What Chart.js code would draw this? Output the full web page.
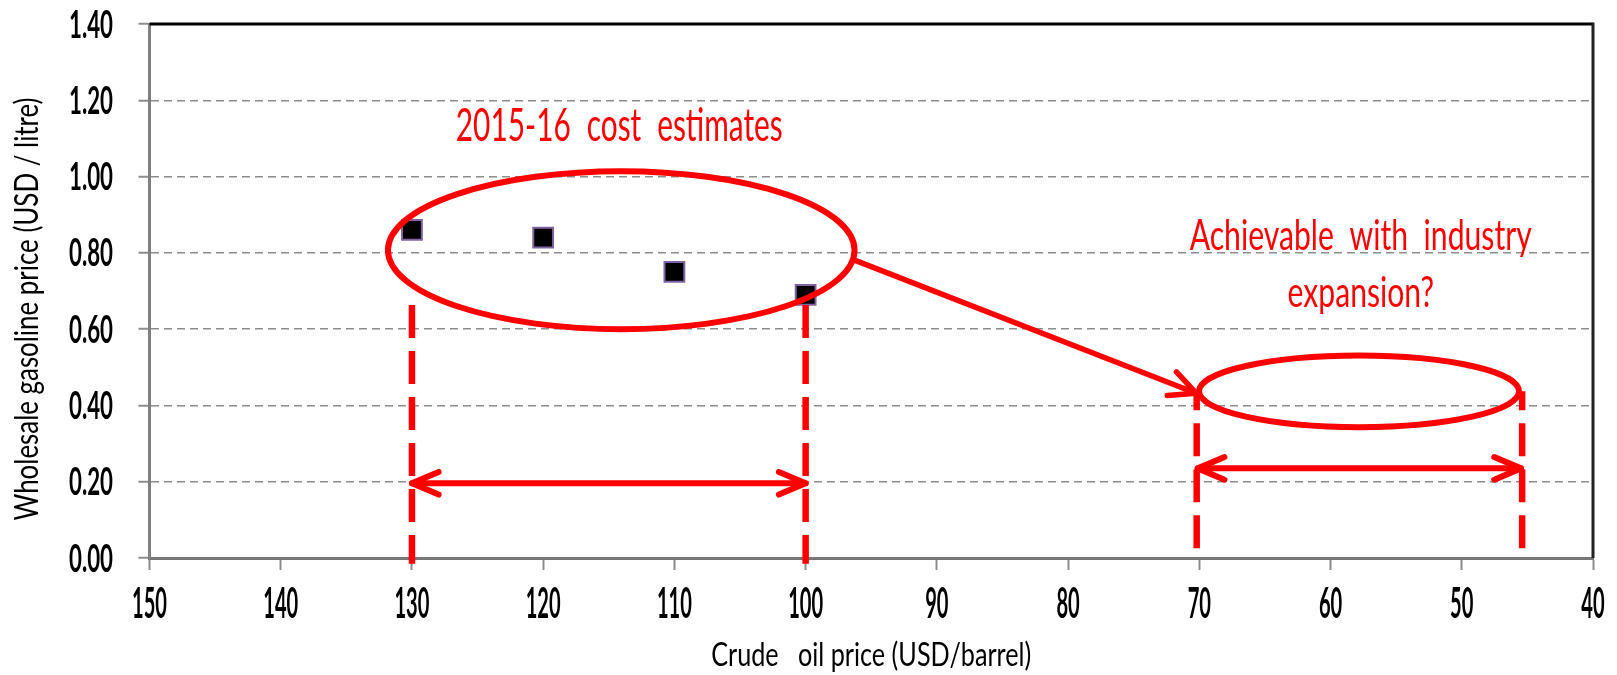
<!DOCTYPE html>
<html>
<head>
<meta charset="utf-8">
<script src="https://cdn.jsdelivr.net/npm/chart.js@4.4.1/dist/chart.umd.min.js"></script>
<style>
html,body{margin:0;padding:0;background:#fff;overflow:hidden}
#wrap{width:1617px;height:675px}
</style>
</head>
<body>
<div id="wrap"><canvas id="c" width="1617" height="675"></canvas></div>
<script>
// ---- data ----
const crudePrice = [130, 120, 110, 100];
const gasolinePrice = [0.86, 0.84, 0.75, 0.69];
const xTickValues = [150, 140, 130, 120, 110, 100, 90, 80, 70, 60, 50, 40];
const yTickValues = [0, 0.2, 0.4, 0.6, 0.8, 1.0, 1.2, 1.4];
const xTitle = 'Crude   oil price (USD/barrel)';
const yTitle = 'Wholesale gasoline price (USD / litre)';
const costNote = '2015-16 cost estimates';
const futureNote = ['Achievable with industry', 'expansion?'];
// annotation geometry (data units)
const costNotePos = [114.2, 1.093];
const futureNotePos = [57.7, 0.807, 0.659];
const ellipseCenters = [[114.05, 0.807], [57.83, 0.437]];
const ellipseRadii = [[17.78, 0.207], [12.19, 0.094]];
const guideX = [130, 100, 70.2, 45.4];
const guideTop = [0.663, 0.663, 0.437, 0.437];
const guideBottom = [-0.015, -0.015, 0.025, 0.025];
const guideDashOffset = [0, 0, 14, 14];
const pointerFrom = [96.27, 0.781];
const pointerTo = [70.24, 0.432];
const rangeY = [0.196, 0.235];
const rangeFrom = [130, 70.12];
const rangeTo = [100, 45.49];

const RED = '#FF0000';
const FONT = 'Lato, "Open Sans", sans-serif';

function fitText(ctx, text, x, y, font, targetW, align, baseline, color, wordSpacing) {
  ctx.save();
  ctx.font = font;
  if (wordSpacing) ctx.wordSpacing = wordSpacing;
  const w = ctx.measureText(text).width;
  const sx = targetW / w;
  ctx.translate(x, y);
  ctx.scale(sx, 1);
  ctx.textAlign = align;
  ctx.textBaseline = baseline;
  ctx.fillStyle = color;
  ctx.fillText(text, 0, 0);
  ctx.restore();
  return sx;
}
function scaledText(ctx, text, x, y, font, sx, align, baseline, color, wordSpacing) {
  ctx.save();
  ctx.font = font;
  if (wordSpacing) ctx.wordSpacing = wordSpacing;
  ctx.translate(x, y);
  ctx.scale(sx, 1);
  ctx.textAlign = align;
  ctx.textBaseline = baseline;
  ctx.fillStyle = color;
  ctx.fillText(text, 0, 0);
  ctx.restore();
}
function measureSx(ctx, text, font, target) {
  ctx.save(); ctx.font = font;
  const w = ctx.measureText(text).width;
  ctx.restore();
  return target / w;
}

const framePlugin = {
  id: 'frame',
  beforeDatasetsDraw(chart) {
    const {ctx, chartArea: a} = chart;
    ctx.save();
    ctx.lineWidth = 3;
    ctx.strokeStyle = '#000';
    ctx.beginPath();
    ctx.moveTo(a.left, a.top);
    ctx.lineTo(a.right, a.top);
    ctx.stroke();
    ctx.strokeStyle = '#222';
    ctx.beginPath();
    ctx.moveTo(a.right, a.top - 1.5);
    ctx.lineTo(a.right, a.bottom);
    ctx.stroke();
    ctx.restore();
  }
};

const labelPlugin = {
  id: 'labels',
  afterDraw(chart) {
    const {ctx, chartArea: a, scales: {x, y}} = chart;
    // y tick labels
    const ySize = 38;
    const yFont = 'bold ' + ySize + 'px ' + FONT;
    const ySx = measureSx(ctx, '0.00', yFont, 44);
    const yCap = ySize * 0.7165;
    y.ticks.forEach(t => {
      scaledText(ctx, t.value.toFixed(2), 113, y.getPixelForValue(t.value) + yCap / 2, yFont, ySx, 'right', 'alphabetic', '#000');
    });
    // x tick labels
    const xFont = 'bold 42px ' + FONT;
    const xSx = measureSx(ctx, '150', xFont, 35);
    x.ticks.forEach(t => {
      scaledText(ctx, String(t.value), x.getPixelForValue(t.value), a.bottom + 60, xFont, xSx, 'center', 'alphabetic', '#000');
    });
    // axis titles
    fitText(ctx, xTitle, (a.left + a.right) / 2, 666, '33px ' + FONT, 320, 'center', 'alphabetic', '#000');
    ctx.save();
    ctx.translate(38, 309);
    ctx.rotate(-Math.PI / 2);
    fitText(ctx, yTitle, 0, 0, '33px ' + FONT, 423, 'center', 'alphabetic', '#000');
    ctx.restore();
  }
};

function head(ctx, tx, ty, ang, len, half) {
  ctx.beginPath();
  ctx.moveTo(tx - len * Math.cos(ang - half), ty - len * Math.sin(ang - half));
  ctx.lineTo(tx, ty);
  ctx.lineTo(tx - len * Math.cos(ang + half), ty - len * Math.sin(ang + half));
  ctx.stroke();
}

const annotationPlugin = {
  id: 'annotations',
  afterDatasetsDraw(chart) {
    const {ctx, scales: {x, y}} = chart;
    const px = v => x.getPixelForValue(v);
    const py = v => y.getPixelForValue(v);
    ctx.save();
    ctx.strokeStyle = RED;
    ctx.fillStyle = RED;
    // dashed guides
    ctx.lineWidth = 6.5;
    ctx.lineCap = 'butt';
    ctx.setLineDash([33, 13]);
    guideX.forEach((gx, i) => {
      ctx.lineDashOffset = guideDashOffset[i];
      ctx.beginPath();
      ctx.moveTo(px(gx), py(guideTop[i]));
      ctx.lineTo(px(gx), py(guideBottom[i]));
      ctx.stroke();
    });
    ctx.setLineDash([]);
    ctx.lineDashOffset = 0;
    // ellipses
    ctx.lineWidth = 6;
    ellipseCenters.forEach((c, i) => {
      const cx = px(c[0]), cy = py(c[1]);
      const rx = Math.abs(px(c[0] + ellipseRadii[i][0]) - cx);
      const ry = Math.abs(py(c[1] + ellipseRadii[i][1]) - cy);
      ctx.beginPath();
      ctx.ellipse(cx, cy, rx, ry, 0, 0, Math.PI * 2);
      ctx.stroke();
    });
    // pointer arrow
    ctx.lineCap = 'round';
    ctx.lineJoin = 'round';
    ctx.lineWidth = 5.5;
    const x1 = px(pointerFrom[0]), y1 = py(pointerFrom[1]);
    const x2 = px(pointerTo[0]), y2 = py(pointerTo[1]);
    ctx.beginPath(); ctx.moveTo(x1, y1); ctx.lineTo(x2, y2); ctx.stroke();
    head(ctx, x2, y2, Math.atan2(y2 - y1, x2 - x1), 29, 0.45);
    // range arrows
    ctx.lineWidth = 6;
    rangeY.forEach((ry, i) => {
      const a1 = px(rangeFrom[i]), a2 = px(rangeTo[i]), yy = py(ry);
      ctx.beginPath(); ctx.moveTo(a1, yy); ctx.lineTo(a2, yy); ctx.stroke();
      head(ctx, a1, yy, Math.PI, 29, 0.4);
      head(ctx, a2, yy, 0, 29, 0.4);
    });
    // notes
    fitText(ctx, costNote, px(costNotePos[0]), py(costNotePos[1]), '47px ' + FONT, 327, 'center', 'alphabetic', RED, '13px');
    const sx = fitText(ctx, futureNote[0], px(futureNotePos[0]), py(futureNotePos[1]), '42px ' + FONT, 342, 'center', 'alphabetic', RED, '11px');
    scaledText(ctx, futureNote[1], px(futureNotePos[0]), py(futureNotePos[2]), '42px ' + FONT, sx, 'center', 'alphabetic', RED, '11px');
    ctx.restore();
  }
};

new Chart(document.getElementById('c'), {
  type: 'scatter',
  data: {
    datasets: [{
      data: crudePrice.map((v, i) => ({x: v, y: gasolinePrice[i]})),
      pointStyle: 'rect',
      pointRadius: 14,
      pointHoverRadius: 14,
      backgroundColor: '#000',
      borderColor: '#8064A2',
      borderWidth: 2
    }]
  },
  options: {
    responsive: false,
    animation: false,
    events: [],
    layout: {padding: {top: 24, right: 24, left: 0, bottom: 0}},
    plugins: {legend: {display: false}, tooltip: {enabled: false}},
    scales: {
      x: {
        type: 'linear',
        reverse: true,
        min: 40,
        max: 150,
        afterBuildTicks: s => { s.ticks = xTickValues.map(v => ({value: v})); },
        afterFit: s => { s.height = 117; },
        ticks: {display: false},
        grid: {drawOnChartArea: false, drawTicks: true, tickLength: 12, tickWidth: 2, tickColor: '#8c8c8c'},
        border: {display: true, color: '#777', width: 3}
      },
      y: {
        type: 'linear',
        min: 0,
        max: 1.4,
        afterBuildTicks: s => { s.ticks = yTickValues.map(v => ({value: v})); },
        afterFit: s => { s.width = 149.5; },
        ticks: {display: false},
        grid: {
          color: c => (c.tick && (Math.abs(c.tick.value) < 1e-9 || Math.abs(c.tick.value - 1.4) < 1e-9)) ? 'rgba(0,0,0,0)' : '#8c8c8c',
          lineWidth: 1.5,
          drawTicks: true,
          tickLength: 11,
          tickWidth: 2,
          tickColor: '#8c8c8c'
        },
        border: {display: true, color: '#808080', width: 3, dash: [8, 5]}
      }
    }
  },
  plugins: [framePlugin, annotationPlugin, labelPlugin]
});
</script>
</body>
</html>
